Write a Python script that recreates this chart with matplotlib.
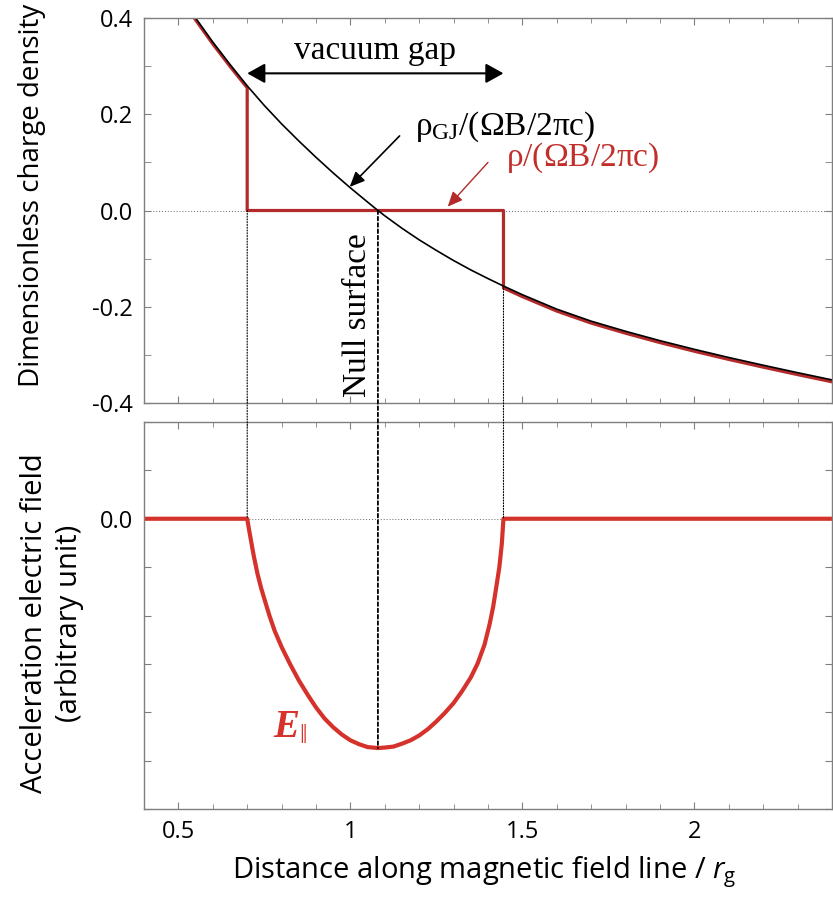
import matplotlib
matplotlib.use("Agg")
import matplotlib.pyplot as plt
from matplotlib.patches import ConnectionPatch
from matplotlib.ticker import MultipleLocator, FuncFormatter

plt.rcParams['font.family'] = 'Open Sans'
plt.rcParams['axes.unicode_minus'] = False
plt.rcParams['mathtext.fontset'] = 'custom'
plt.rcParams['mathtext.rm'] = 'Liberation Serif'
plt.rcParams['mathtext.it'] = 'Open Sans:italic'
plt.rcParams['mathtext.sf'] = 'Open Sans'
plt.rcParams['mathtext.bf'] = 'Liberation Serif:italic:bold'

# Goldreich-Julian charge density along the field line
s_gj = [0.53, 0.55, 0.60, 0.65, 0.70, 0.75, 0.80, 0.85, 0.90, 0.95, 1.00,
        1.05, 1.08, 1.10, 1.15, 1.20, 1.25, 1.30, 1.35, 1.40, 1.445, 1.50,
        1.60, 1.70, 1.80, 1.90, 2.00, 2.10, 2.20, 2.30, 2.40]
rho_gj = [0.421, 0.400, 0.350, 0.3035, 0.259, 0.218, 0.180, 0.1445, 0.1105,
          0.078, 0.047, 0.0175, 0.000, -0.011, -0.037, -0.061, -0.083,
          -0.104, -0.1235, -0.1415, -0.157, -0.175, -0.205, -0.230, -0.251,
          -0.2705, -0.2885, -0.3055, -0.3215, -0.337, -0.352]

# actual charge density (zero inside the gap)
s_rho = [0.53, 0.55, 0.60, 0.65, 0.70, 0.70, 1.445, 1.445, 1.50, 1.60, 1.70,
         1.80, 1.90, 2.00, 2.10, 2.20, 2.30, 2.40]
rho = [0.417, 0.396, 0.346, 0.2995, 0.255, 0.0, 0.0, -0.161, -0.179, -0.209,
       -0.234, -0.255, -0.2745, -0.2925, -0.3095, -0.3255, -0.341, -0.356]

# parallel electric field (arbitrary unit)
s_e = [0.40, 0.700, 0.705, 0.710, 0.715, 0.720, 0.730, 0.740, 0.750, 0.765,
       0.780, 0.800, 0.825, 0.850, 0.875, 0.900, 0.925, 0.950, 0.975, 1.000,
       1.025, 1.050, 1.080, 1.100, 1.125, 1.150, 1.175, 1.200, 1.225, 1.250,
       1.275, 1.300, 1.325, 1.350, 1.370, 1.390, 1.405, 1.415, 1.425, 1.433,
       1.440, 1.445, 2.40]
e_par = [0, 0, -0.21, -0.41, -0.61, -0.80, -1.14, -1.42, -1.66, -2.01,
         -2.32, -2.65, -3.01, -3.34, -3.63, -3.90, -4.13, -4.31, -4.46, -4.58,
         -4.66, -4.72, -4.74, -4.73, -4.71, -4.65, -4.58, -4.48, -4.35, -4.19,
         -4.01, -3.81, -3.56, -3.28, -2.99, -2.60, -2.17, -1.82, -1.37, -1.00,
         -0.53, 0, 0]

gap_in = 0.70
gap_out = 1.445
s_null = 1.08

red_top = '#b22a2a'
red_bot = '#d4322a'
spine_c = '#7f7f7f'

fig = plt.figure(figsize=(8.33, 9.01), dpi=100)
ax1 = fig.add_axes([144/833, 1-403/901, 688/833, 385/901])
ax2 = fig.add_axes([144/833, 1-809/901, 688/833, 387/901])

for ax in (ax1, ax2):
    ax.set_xlim(0.4, 2.4)
    ax.xaxis.set_major_locator(MultipleLocator(0.5))
    ax.xaxis.set_minor_locator(MultipleLocator(0.1))
    ax.tick_params(which='both', direction='in', top=True, right=True,
                   color=spine_c, labelsize=17, pad=8)
    ax.tick_params(which='major', length=5)
    ax.tick_params(which='minor', length=3.5)
    ax.tick_params(axis='y', which='minor', length=5)
    for sp in ax.spines.values():
        sp.set_color(spine_c)
        sp.set_linewidth(1.0)
    ax.axhline(0, color='#666666', lw=0.7, ls=(0, (1, 2)), zorder=0)

# upper panel: charge densities
ax1.set_ylim(-0.4, 0.4)
ax1.yaxis.set_major_locator(MultipleLocator(0.2))
ax1.yaxis.set_minor_locator(MultipleLocator(0.1))
ax1.yaxis.set_major_formatter(FuncFormatter(lambda v, p: '%.1f' % v))
ax1.tick_params(labelbottom=False)

ax1.plot(s_rho, rho, color=red_top, lw=2.3)
ax1.plot(s_gj, rho_gj, color='black', lw=1.2)

ax1.annotate('', xy=(gap_out, 0.285), xytext=(gap_in, 0.285),
             arrowprops=dict(arrowstyle='<|-|>,head_length=0.54,head_width=0.3',
                             mutation_scale=20, color='black', lw=1.5,
                             shrinkA=0, shrinkB=0))
ax1.text((gap_in + gap_out) / 2, 0.314, 'vacuum gap', ha='center',
         va='baseline', fontsize=24, family='Liberation Serif')

ax1.annotate('', xy=(0.998, 0.049), xytext=(1.143, 0.155),
             arrowprops=dict(arrowstyle='-|>,head_length=0.45,head_width=0.2',
                             mutation_scale=20, color='black', lw=1.2,
                             shrinkA=0, shrinkB=0))
ax1.text(1.189, 0.157, r'$\mathrm{ρ_{GJ}/(ΩB/2πc)}$', ha='left',
         va='baseline', fontsize=24)

ax1.annotate('', xy=(1.283, 0.008), xytext=(1.40, 0.100),
             arrowprops=dict(arrowstyle='-|>,head_length=0.45,head_width=0.2',
                             mutation_scale=20, color=red_top, lw=1.0,
                             shrinkA=0, shrinkB=0))
ax1.text(1.451, 0.092, r'$\mathrm{ρ/(ΩB/2πc)}$', ha='left', va='baseline',
         fontsize=24, color='#c22f2b')

ax1.text(1.046, -0.388, 'Null surface', rotation=90, rotation_mode='anchor',
         ha='left', va='baseline', fontsize=24, family='Liberation Serif')

# lower panel: accelerating field
ax2.set_ylim(-6, 2)
ax2.yaxis.set_major_locator(MultipleLocator(1))
ax2.yaxis.set_major_formatter(FuncFormatter(
    lambda v, p: '0.0' if abs(v) < 1e-9 else ''))
ax2.xaxis.set_major_formatter(FuncFormatter(lambda v, p: '%g' % v))

ax2.plot(s_e, e_par, color=red_bot, lw=3.0, solid_capstyle='butt',
         solid_joinstyle='round')
ax2.text(0.775, -4.53, r'$\mathbf{E}_{\Vert}$', ha='left', va='baseline',
         fontsize=28, color=red_bot)

# guide lines running across both panels
for s0, y_top in ((gap_in, 0.0), (gap_out, -0.157)):
    fig.add_artist(ConnectionPatch(xyA=(s0, y_top), coordsA=ax1.transData,
                                   xyB=(s0, 0.0), coordsB=ax2.transData,
                                   color='black', lw=0.8, ls=(0, (1, 1.5)),
                                   zorder=1))
fig.add_artist(ConnectionPatch(xyA=(s_null, 0.0), coordsA=ax1.transData,
                               xyB=(s_null, -4.74), coordsB=ax2.transData,
                               color='black', lw=1.3, ls=(0, (2, 1.5)),
                               zorder=1))

fig.text(32/833, 1-195/901, 'Dimensionless charge density', rotation=90,
         ha='center', va='center', fontsize=20)
fig.text(52/833, 1-623/901, 'Acceleration electric field\n(arbitrary unit)',
         rotation=90, ha='center', va='center', fontsize=21, linespacing=1.25)
fig.text(484/833, 1-872/901,
         r'Distance along magnetic field line / $\mathit{r}_{\mathsf{g}}$',
         ha='center', va='center', fontsize=21)

fig.savefig('out.png', dpi=100)
